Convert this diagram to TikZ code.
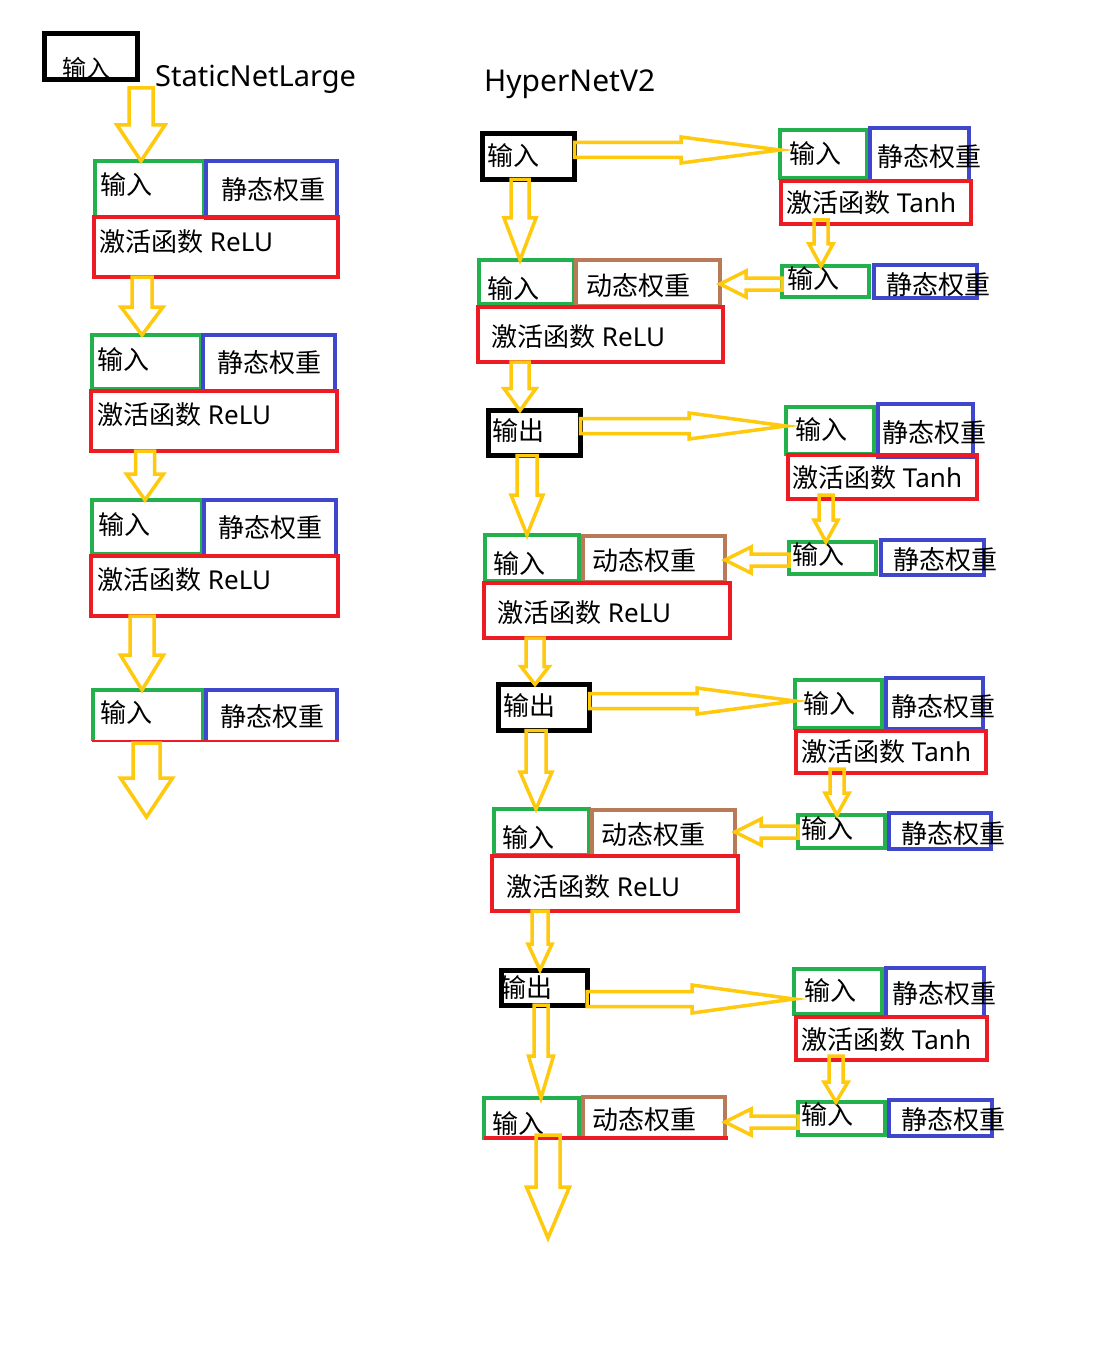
\documentclass[tikz,border=0pt]{standalone}
\usepackage{fontspec}
\setmainfont{Noto Sans}
\newfontfamily\cjk{Noto Sans CJK SC}
\usetikzlibrary{calc}

\definecolor{pgreen}{RGB}{34,177,76}
\definecolor{pblue}{RGB}{63,72,204}
\definecolor{pred}{RGB}{237,28,36}
\definecolor{pbrown}{RGB}{185,122,87}
\definecolor{pyellow}{RGB}{255,201,14}

\tikzset{
  box/.style={rectangle, line width=4.5pt, inner sep=0pt, outer sep=0pt},
  txt/.style={inner sep=0pt, anchor=west, font=\fontsize{26}{30}\selectfont},
  title/.style={inner sep=0pt, anchor=base west},
  blk/.style={draw=pyellow, line width=3.5pt, line join=miter},
}

% box by corners: name, colour, x1, y1, x2, y2 (pixel units)
\newcommand\bx[6]{%
  \node[box, draw=#2, minimum width={(#5-#3-4)*1pt}, minimum height={(#6-#4-4)*1pt}]
    (#1) at ({(#3+#5)/2},{(#4+#6)/2}) {};}
% box drawn without its bottom side
\newcommand\obx[6]{%
  \node[box, minimum width={(#5-#3-4)*1pt}, minimum height={(#6-#4-4)*1pt}]
    (#1) at ({(#3+#5)/2},{(#4+#6)/2}) {};
  \draw[draw=#2, line width=4.5pt] (#1.south west) |- (#1.north east) -- (#1.south east);}
% text label: name, x, y, content
\newcommand\tx[4]{\node[txt] (#1) at (#2,#3) {#4};}
\newcommand\zh[1]{{\cjk #1}}

% hollow block arrows: from, to, axis position, half shaft, half head, head length
\newcommand\darrow[6]{%
  \draw[blk] let \p1=(#1), \p2=(#2) in
    ({(#3-#4)*1pt},\y1) -- ({(#3-#4)*1pt},{\y2+#6pt}) -- ({(#3-#5)*1pt},{\y2+#6pt})
    -- ({#3*1pt},\y2) -- ({(#3+#5)*1pt},{\y2+#6pt}) -- ({(#3+#4)*1pt},{\y2+#6pt})
    -- ({(#3+#4)*1pt},\y1) -- cycle;}
\newcommand\rarrow[6]{%
  \draw[blk] let \p1=(#1), \p2=(#2) in
    (\x1,{(#4-#3)*1pt}) -- ({\x2-#6pt},{(#4-#3)*1pt}) -- ({\x2-#6pt},{(#5-#3)*1pt})
    -- (\x2,{-#3*1pt}) -- ({\x2-#6pt},{(-#3-#5)*1pt}) -- ({\x2-#6pt},{(-#3-#4)*1pt})
    -- (\x1,{(-#3-#4)*1pt}) -- cycle;}
\newcommand\larrow[6]{%
  \draw[blk] let \p1=(#1), \p2=(#2) in
    (\x1,{(#4-#3)*1pt}) -- ({\x2+#6pt},{(#4-#3)*1pt}) -- ({\x2+#6pt},{(#5-#3)*1pt})
    -- (\x2,{-#3*1pt}) -- ({\x2+#6pt},{(-#3-#5)*1pt}) -- ({\x2+#6pt},{(-#3-#4)*1pt})
    -- (\x1,{(-#3-#4)*1pt}) -- cycle;}

\begin{document}
\begin{tikzpicture}[x=1pt, y=-1pt]
\fill[white] (0,0) rectangle (1093,1356);
\useasboundingbox (0,0) rectangle (1093,1356);

% ---------------- StaticNetLarge ----------------
\node[box, draw=black, line width=5pt, minimum width=93pt, minimum height=46pt] (L0) at (90.5,57) {};
\node[txt, font=\fontsize{24}{28}\selectfont] (L0t) at (62,68) {\zh{输入}};
\node[title, font=\fontsize{29}{34}\selectfont] (t1) at (155,87) {StaticNetLarge};

\bx{G1g}{pgreen}{93}{159}{206}{219}
\bx{G1b}{pblue}{204}{159}{339}{220}
\bx{G1r}{pred}{92}{215}{340}{279}
\tx{G1gt}{100}{185}{\zh{输入}}
\tx{G1bt}{221}{190}{\zh{静态权重}}
\tx{G1rt}{99}{242}{\zh{激活函数} ReLU}

\bx{G2g}{pgreen}{90}{333}{203}{391}
\bx{G2b}{pblue}{201}{333}{337}{393}
\bx{G2r}{pred}{89}{389}{339}{453}
\tx{G2gt}{97}{360}{\zh{输入}}
\tx{G2bt}{217}{363}{\zh{静态权重}}
\tx{G2rt}{97}{415}{\zh{激活函数} ReLU}

\bx{G3g}{pgreen}{90}{498}{204}{556}
\bx{G3b}{pblue}{202}{498}{338}{558}
\bx{G3r}{pred}{89}{554}{340}{618}
\tx{G3gt}{98}{525}{\zh{输入}}
\tx{G3bt}{218}{528}{\zh{静态权重}}
\tx{G3rt}{97}{580}{\zh{激活函数} ReLU}

\obx{G4g}{pgreen}{91}{688}{205}{743}
\obx{G4b}{pblue}{204}{688}{339}{743}
\draw[pred, line width=1.5pt] ($(G4g.south west)+(-1,0)$) -- ($(G4b.south east)+(2,0)$);
\tx{G4gt}{100}{713}{\zh{输入}}
\tx{G4bt}{220}{717}{\zh{静态权重}}

\coordinate (endL) at (146.5,817);
\darrow{$(L0.south)+(0,8)$}{G1g.north}{141}{12}{24}{36}
\darrow{G1r.south}{G2g.north}{142}{10}{21}{28}
\darrow{G2r.south}{G3g.north}{145}{9.5}{18.5}{26}
\darrow{G3r.south}{G4g.north}{142}{12}{21.5}{35}
\darrow{$(G4g.south)+(0,2)$}{endL}{146.5}{13.5}{26}{39}

% ---------------- HyperNetV2 ----------------
\node[title, font=\fontsize{30}{36}\selectfont] (t2) at (484,92) {HyperNetV2};

% input and first hyper block
\node[box, draw=black, line width=5pt, minimum width=92pt, minimum height=46pt] (R0) at (528.5,156.5) {};
\tx{R0t}{487}{156}{\zh{输入}}

\bx{A1g}{pgreen}{778}{128}{869}{180}
\bx{A1b}{pblue}{868}{126}{971}{183}
\bx{A1r}{pred}{779}{179}{973}{226}
\tx{A1gt}{789}{154}{\zh{输入}}
\tx{A1bt}{877}{157}{\zh{静态权重}}
\tx{A1rt}{786}{203}{\zh{激活函数} Tanh}

\bx{A2g}{pgreen}{780}{264}{871}{299}
\bx{A2b}{pblue}{872}{263}{979}{300}
\tx{A2gt}{787}{279}{\zh{输入}}
\tx{A2bt}{886}{285}{\zh{静态权重}}

\bx{B1g}{pgreen}{477}{258}{576}{306}
\bx{B1n}{pbrown}{574}{258}{722}{308}
\bx{B1r}{pred}{476}{305}{725}{364}
\tx{B1gt}{487}{289}{\zh{输入}}
\tx{B1nt}{586}{286}{\zh{动态权重}}
\tx{B1rt}{491}{337}{\zh{激活函数} ReLU}

\rarrow{R0.east}{A1g.west}{150}{7.5}{13}{99}
\darrow{$(A1r.south)+(0,-4)$}{A2g.north}{821}{7}{12}{22}
\larrow{A2g.west}{B1n.east}{284}{6}{13}{26}
\darrow{R0.south}{B1g.north}{520}{9}{16}{42}

% second block
\node[box, draw=black, line width=5pt, minimum width=92pt, minimum height=45pt] (R1) at (534.5,433) {};
\tx{R1t}{492}{431}{\zh{输出}}

\bx{A3g}{pgreen}{784}{405}{876}{456}
\bx{A3b}{pblue}{876}{402}{975}{459}
\bx{A3r}{pred}{786}{453}{979}{501}
\tx{A3gt}{795}{430}{\zh{输入}}
\tx{A3bt}{882}{433}{\zh{静态权重}}
\tx{A3rt}{792}{478}{\zh{激活函数} Tanh}

\bx{A4g}{pgreen}{787}{540}{878}{576}
\bx{A4b}{pblue}{879}{538}{986}{577}
\tx{A4gt}{792}{555}{\zh{输入}}
\tx{A4bt}{893}{560}{\zh{静态权重}}

\bx{B2g}{pgreen}{483}{533}{581}{583}
\bx{B2n}{pbrown}{581}{534}{727}{584}
\bx{B2r}{pred}{482}{581}{732}{640}
\tx{B2gt}{493}{564}{\zh{输入}}
\tx{B2nt}{592}{561}{\zh{动态权重}}
\tx{B2rt}{497}{613}{\zh{激活函数} ReLU}

\darrow{B1r.south}{R1.north}{520}{9}{16}{22}
\rarrow{R1.east}{A3g.west}{426}{7.5}{13}{97}
\darrow{$(A3r.south)+(0,-4)$}{A4g.north}{826}{7}{12}{22}
\larrow{A4g.west}{B2n.east}{560}{6}{13}{26}
\darrow{R1.south}{B2g.north}{527}{10}{16}{40}

% third block
\node[box, draw=black, line width=5pt, minimum width=91pt, minimum height=46pt] (R2) at (544,707.5) {};
\tx{R2t}{503}{706}{\zh{输出}}

\bx{A5g}{pgreen}{793}{678}{884}{730}
\bx{A5b}{pblue}{884}{676}{985}{731}
\bx{A5r}{pred}{794}{729}{988}{775}
\tx{A5gt}{803}{704}{\zh{输入}}
\tx{A5bt}{891}{707}{\zh{静态权重}}
\tx{A5rt}{801}{752}{\zh{激活函数} Tanh}

\bx{A6g}{pgreen}{796}{813}{887}{850}
\bx{A6b}{pblue}{887}{811}{993}{851}
\tx{A6gt}{801}{829}{\zh{输入}}
\tx{A6bt}{901}{834}{\zh{静态权重}}

\bx{B3g}{pgreen}{492}{807}{591}{857}
\bx{B3n}{pbrown}{590}{808}{737}{858}
\bx{B3r}{pred}{490}{854}{740}{913}
\tx{B3gt}{502}{838}{\zh{输入}}
\tx{B3nt}{601}{835}{\zh{动态权重}}
\tx{B3rt}{506}{887}{\zh{激活函数} ReLU}

\darrow{B2r.south}{R2.north}{535}{9}{14}{18}
\rarrow{R2.east}{A5g.west}{701}{7.5}{13}{98}
\darrow{$(A5r.south)+(0,-4)$}{A6g.north}{837}{7}{12}{22}
\larrow{A6g.west}{B3n.east}{832}{6}{13}{26}
\darrow{R2.south}{B3g.north}{536}{10}{16}{37}

% fourth block
\node[box, draw=black, line width=5pt, minimum width=86pt, minimum height=35pt] (R3) at (544,987.5) {};
\tx{R3t}{500}{988}{\zh{输出}}

\bx{A7g}{pgreen}{792}{967}{884}{1016}
\bx{A7b}{pblue}{884}{966}{986}{1019}
\bx{A7r}{pred}{794}{1015}{989}{1062}
\tx{A7gt}{804}{991}{\zh{输入}}
\tx{A7bt}{892}{994}{\zh{静态权重}}
\tx{A7rt}{801}{1040}{\zh{激活函数} Tanh}

\bx{A8g}{pgreen}{796}{1100}{887}{1137}
\bx{A8b}{pblue}{887}{1098}{994}{1138}
\tx{A8gt}{801}{1115}{\zh{输入}}
\tx{A8bt}{901}{1120}{\zh{静态权重}}

\bx{B4g}{pgreen}{482}{1096}{581}{1140}
\bx{B4n}{pbrown}{581}{1095}{727}{1140}
\draw[pred, line width=4pt] ($(B4g.south west)+(0,0)$) -- ($(B4n.south east)+(3,0)$);
\tx{B4gt}{492}{1124}{\zh{输入}}
\tx{B4nt}{592}{1120}{\zh{动态权重}}

\coordinate (endR) at (548,1238);
\darrow{B3r.south}{R3.north}{540}{8}{12}{26}
\rarrow{R3.east}{A7g.west}{999}{7.5}{14}{102}
\darrow{$(A7r.south)+(0,-4)$}{A8g.north}{836}{7}{12}{20}
\larrow{A8g.west}{B4n.east}{1122}{6}{13}{26}
\darrow{R3.south}{B4g.north}{541}{7}{12.5}{42}
\darrow{$(B4g.south)+(0,-3)$}{endR}{548}{12}{21.5}{51}
\end{tikzpicture}
\end{document}
